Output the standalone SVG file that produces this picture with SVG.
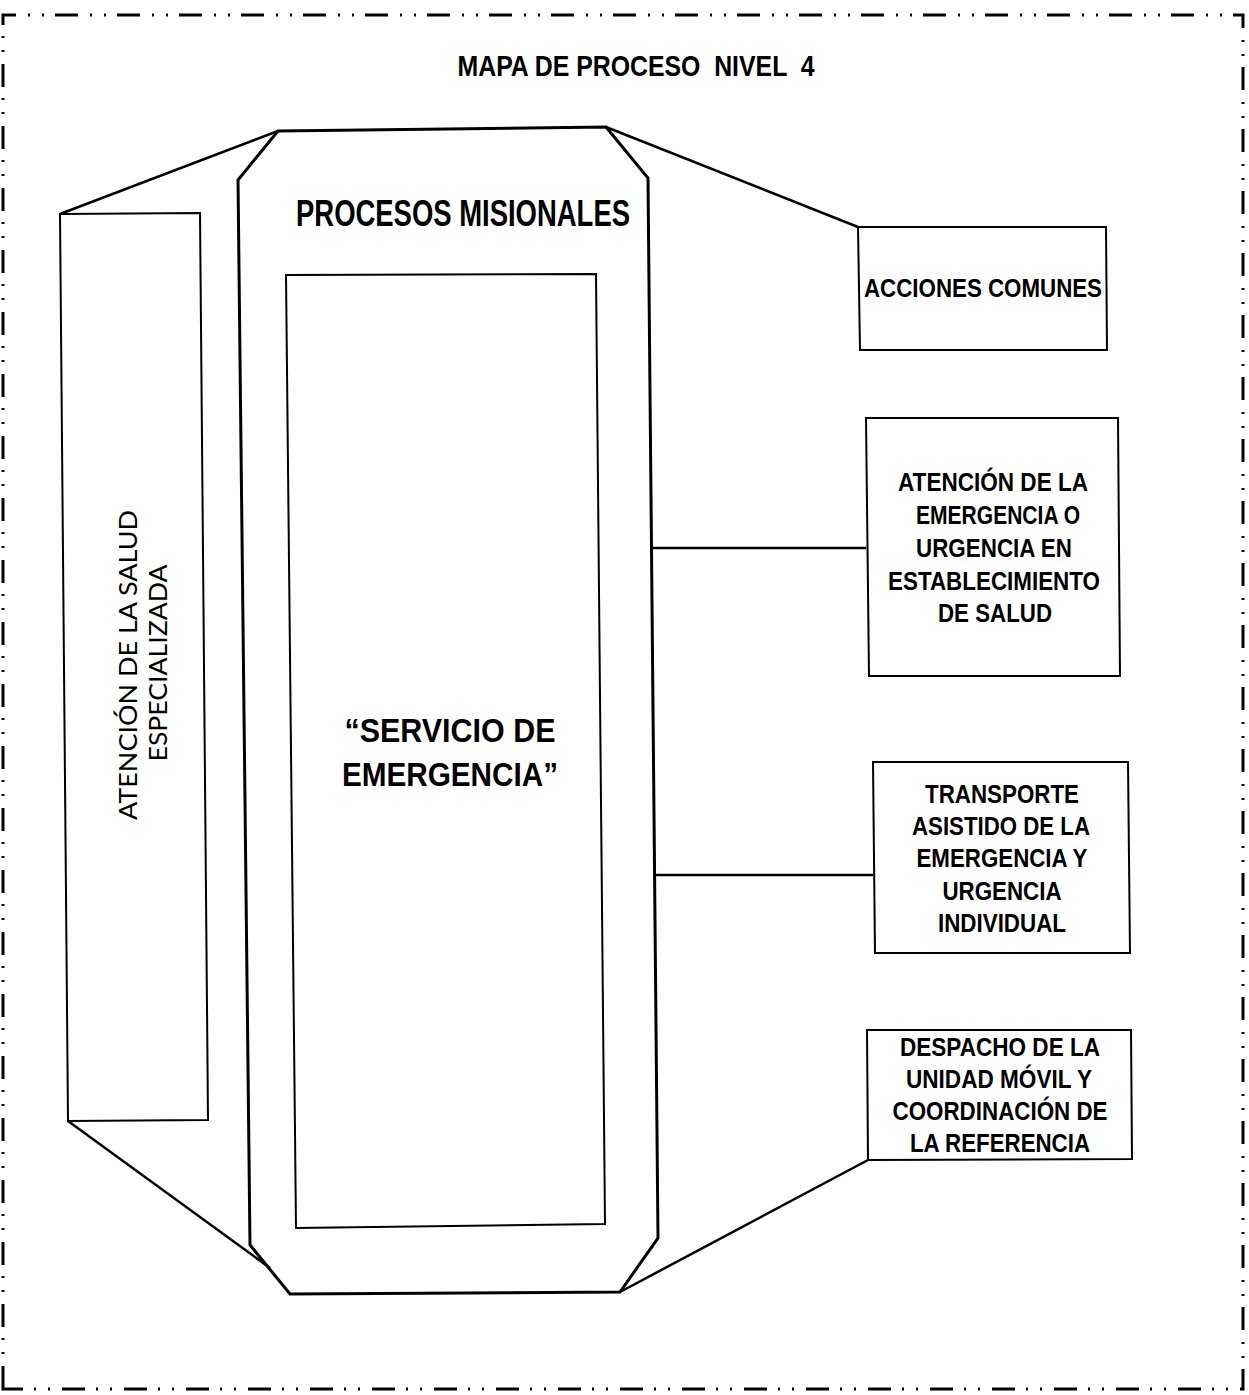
<svg xmlns="http://www.w3.org/2000/svg" width="1249" height="1395" viewBox="0 0 1249 1395">
<style>
.frame{fill:none;stroke:#000;stroke-width:3;stroke-dasharray:23 12 2 12 2 11}
.oct{fill:none;stroke:#000;stroke-width:3;stroke-linejoin:miter}
.box{fill:none;stroke:#000;stroke-width:2}
.ln{fill:none;stroke:#000;stroke-width:2.5}
.b{font-family:"Liberation Sans",Arial,sans-serif;font-weight:bold;fill:#000;text-anchor:middle}
.r{font-family:Lato,"Open Sans",sans-serif;fill:#000;text-anchor:middle}
.pre{white-space:pre}
</style>
<rect width="1249" height="1395" fill="#fff"/>
<path class="frame" d="M3,1389 L3,15 L1243,15 L1243,1389 Z"/>
<text class="b pre" xml:space="preserve" x="636" y="76" font-size="30" textLength="357" lengthAdjust="spacingAndGlyphs">MAPA DE PROCESO  NIVEL  4</text>

<g id="procesos-misionales">
<polygon class="oct" points="278,131 606,127 648,178 658,1238 620,1292 290,1294 250,1245 238,180"/>
<text class="b" x="463" y="226" font-size="36" textLength="334" lengthAdjust="spacingAndGlyphs">PROCESOS MISIONALES</text>
</g>

<g id="servicio-emergencia">
<polygon class="box" points="286,275 596,274 605,1224 296,1228"/>
<text class="b" x="450" y="742" font-size="34" textLength="211" lengthAdjust="spacingAndGlyphs">“SERVICIO DE</text>
<text class="b" x="450" y="786" font-size="34" textLength="216" lengthAdjust="spacingAndGlyphs">EMERGENCIA”</text>
</g>

<g id="atencion-salud-especializada">
<polygon class="box" points="60,214 200,213 208,1120 68,1121"/>
<text class="r" transform="translate(137,665) rotate(-90)" font-size="25" textLength="310" lengthAdjust="spacingAndGlyphs">ATENCIÓN DE LA SALUD</text>
<text class="r" transform="translate(167,663) rotate(-90)" font-size="25" textLength="197" lengthAdjust="spacingAndGlyphs">ESPECIALIZADA</text>
</g>

<g id="acciones-comunes">
<polygon class="box" points="858,227 1106,227 1107,350 860,350"/>
<text class="b" x="983" y="297" font-size="25" textLength="238" lengthAdjust="spacingAndGlyphs">ACCIONES COMUNES</text>
</g>

<g id="atencion-emergencia">
<polygon class="box" points="866,418 1118,418 1120,676 869,676"/>
<text class="b" x="993" y="491" font-size="26" textLength="190" lengthAdjust="spacingAndGlyphs">ATENCIÓN DE LA</text>
<text class="b" x="998" y="524" font-size="26" textLength="164" lengthAdjust="spacingAndGlyphs">EMERGENCIA O</text>
<text class="b" x="994" y="557" font-size="26" textLength="156" lengthAdjust="spacingAndGlyphs">URGENCIA EN</text>
<text class="b" x="994" y="590" font-size="26" textLength="212" lengthAdjust="spacingAndGlyphs">ESTABLECIMIENTO</text>
<text class="b" x="995" y="622" font-size="26" textLength="114" lengthAdjust="spacingAndGlyphs">DE SALUD</text>
</g>

<g id="transporte-asistido">
<polygon class="box" points="873,762 1128,762 1130,953 875,953"/>
<text class="b" x="1002" y="803" font-size="26" textLength="154" lengthAdjust="spacingAndGlyphs">TRANSPORTE</text>
<text class="b" x="1001" y="835" font-size="26" textLength="178" lengthAdjust="spacingAndGlyphs">ASISTIDO DE LA</text>
<text class="b" x="1002" y="867" font-size="26" textLength="171" lengthAdjust="spacingAndGlyphs">EMERGENCIA Y</text>
<text class="b" x="1002" y="900" font-size="26" textLength="119" lengthAdjust="spacingAndGlyphs">URGENCIA</text>
<text class="b" x="1002" y="932" font-size="26" textLength="128" lengthAdjust="spacingAndGlyphs">INDIVIDUAL</text>
</g>

<g id="despacho-unidad">
<polygon class="box" points="867,1030 1131,1030 1132,1159 868,1160"/>
<text class="b" x="1000" y="1056" font-size="26" textLength="200" lengthAdjust="spacingAndGlyphs">DESPACHO DE LA</text>
<text class="b" x="999" y="1088" font-size="26" textLength="186" lengthAdjust="spacingAndGlyphs">UNIDAD MÓVIL Y</text>
<text class="b" x="1000" y="1120" font-size="26" textLength="215" lengthAdjust="spacingAndGlyphs">COORDINACIÓN DE</text>
<text class="b" x="1000" y="1152" font-size="26" textLength="180" lengthAdjust="spacingAndGlyphs">LA REFERENCIA</text>
</g>

<g id="connectors">
<line class="ln" x1="60" y1="214" x2="278" y2="131"/>
<line class="ln" x1="68" y1="1121" x2="270" y2="1268"/>
<line class="ln" x1="606" y1="127" x2="858" y2="227"/>
<line class="ln" x1="652" y1="548" x2="866" y2="548"/>
<line class="ln" x1="655" y1="875" x2="873" y2="875"/>
<line class="ln" x1="868" y1="1160" x2="620" y2="1292"/>
</g>
</svg>
